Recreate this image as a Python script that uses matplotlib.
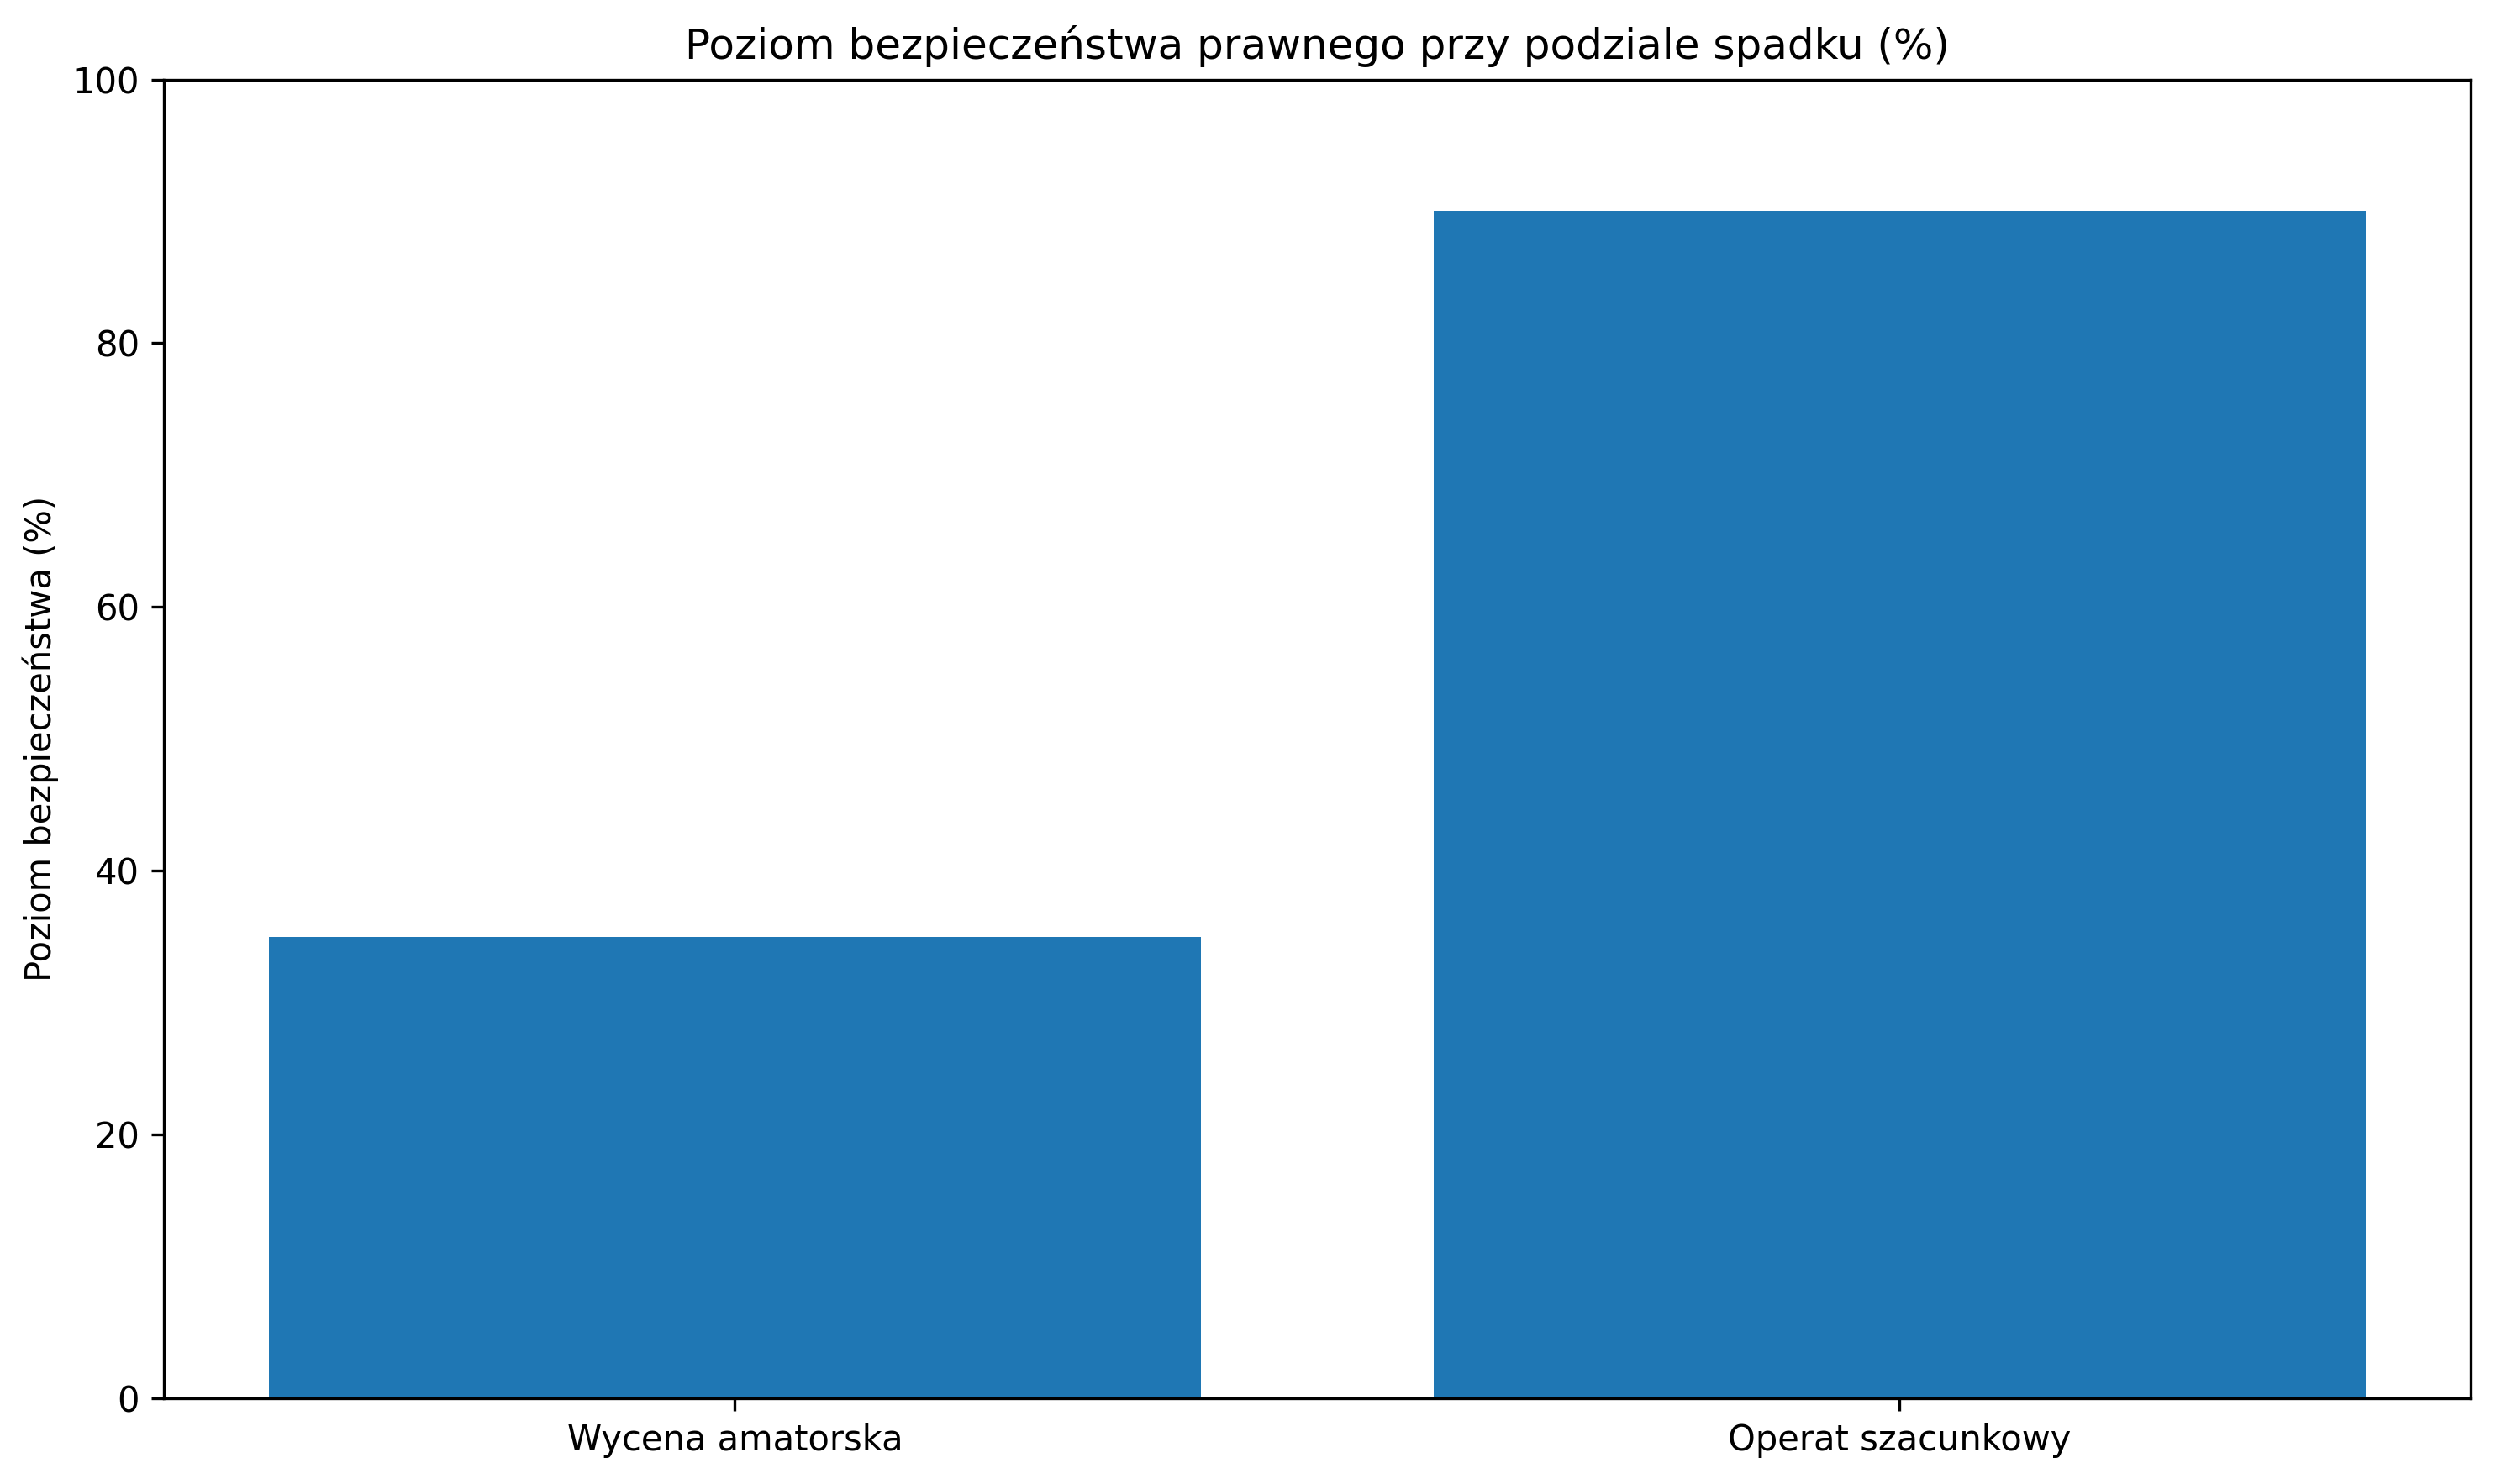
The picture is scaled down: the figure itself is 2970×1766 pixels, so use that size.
import matplotlib
matplotlib.use("Agg")
import matplotlib.pyplot as plt

categories = ["Wycena amatorska", "Operat szacunkowy"]
values = [35, 90]


def main():
    fig, ax = plt.subplots(figsize=(9.9, 5.887))
    ax.bar(categories, values, color="#1f77b4")
    ax.set_ylim(0, 100)
    ax.set_ylabel("Poziom bezpieczeństwa (%)")
    ax.set_title("Poziom bezpieczeństwa prawnego przy podziale spadku (%)")
    fig.subplots_adjust(left=0.0657, right=0.9898, top=0.9464, bottom=0.0579)
    fig.savefig("out.png", dpi=300)
    plt.close(fig)


if __name__ == "__main__":
    main()
